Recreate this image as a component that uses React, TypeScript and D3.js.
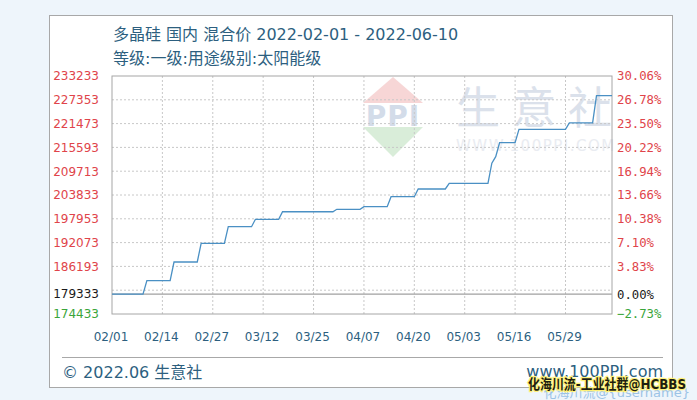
import * as d3 from 'd3';

// price points (date, value) — the line is drawn straight between them
const priceDates = [
  '2022-02-01', '2022-02-09', '2022-02-10', '2022-02-16', '2022-02-17',
  '2022-02-23', '2022-02-24', '2022-03-02', '2022-03-03', '2022-03-09',
  '2022-03-10', '2022-03-16', '2022-03-17', '2022-03-30', '2022-03-31',
  '2022-04-06', '2022-04-07', '2022-04-13', '2022-04-14', '2022-04-20',
  '2022-04-21', '2022-04-28', '2022-04-29', '2022-05-09', '2022-05-10',
  '2022-05-11', '2022-05-12', '2022-05-16', '2022-05-17', '2022-05-29',
  '2022-05-30', '2022-06-05', '2022-06-06', '2022-06-10',
];
const priceValues = [
  179333, 179333, 182667, 182667, 187280,
  187280, 191900, 191900, 196000, 196000,
  197830, 197830, 199700, 199700, 200300,
  200300, 200940, 200940, 203410, 203410,
  205320, 205320, 206720, 206720, 211700,
  213300, 216750, 216750, 220060, 220060,
  221650, 221650, 228370, 228370,
];

const baseValue = 179333;
const yMin = 174433;
const yMax = 233233;
const leftTicks = [233233, 227353, 221473, 215593, 209713, 203833, 197953, 192073, 186193, 179333, 174433];
const gridTicks = [227353, 221473, 215593, 209713, 203833, 197953, 192073, 186193, 180313];
const xTickDates = ['2022-02-01', '2022-02-14', '2022-02-27', '2022-03-12', '2022-03-25', '2022-04-07', '2022-04-20', '2022-05-03', '2022-05-16', '2022-05-29'];
const xTickLabels = ['02/01', '02/14', '02/27', '03/12', '03/25', '04/07', '04/20', '05/03', '05/16', '05/29'];

const title = '多晶硅 国内 混合价 2022-02-01 - 2022-06-10';
const subtitle = '等级:一级:用途级别:太阳能级';

const FONT = '"DejaVu Sans", "Noto Sans CJK SC", sans-serif';
const MONO = '"DejaVu Sans Mono", monospace';

export default function App() {
  const W = 697;
  const H = 400;
  const plot = { left: 112, right: 612, top: 76, bottom: 314 };
  const parse = d3.timeParse('%Y-%m-%d');

  const x = d3
    .scaleTime()
    .domain([parse('2022-02-01')!, parse('2022-06-10')!])
    .range([plot.left, plot.right]);
  const y = d3.scaleLinear().domain([yMin, yMax]).range([plot.bottom, plot.top]);

  const pts = priceDates.map((d, i) => ({ date: parse(d)!, value: priceValues[i] }));
  const line = d3
    .line<{ date: Date; value: number }>()
    .x(d => x(d.date))
    .y(d => y(d.value));

  const pct = (v: number) => `${d3.format('.2f')(((v - baseValue) / baseValue) * 100)}%`;
  const tickColor = (v: number) => (v > baseValue ? '#e0444a' : v < baseValue ? '#3aa53a' : '#1a1a1a');

  // logo watermark centre
  const cx = 393;
  const cy = 117;

  return (
    <svg
      width={W}
      height={H}
      style={{ position: 'fixed', left: 0, top: 0, display: 'block' }}
      fontFamily={FONT}
    >
      <rect x={0} y={0} width={W} height={H} fill="#eef5fb" />
      <rect x={49.5} y={15.5} width={623} height={372} fill="#ffffff" stroke="#a8a8a8" />

      <text x={113} y={40} fontSize={16} fill="#2d5f7f">{title}</text>
      <text x={113} y={64} fontSize={16} fill="#2d5f7f">{subtitle}</text>

      {/* watermark */}
      <g opacity={0.85}>
        <path d={`M${cx - 30},${cy - 14} L${cx},${cy - 40} L${cx + 30},${cy - 14} Z`} fill="#f6d0d0" />
        <path d={`M${cx - 30},${cy + 10} L${cx},${cy + 40} L${cx + 30},${cy + 10} Z`} fill="#d3ebd3" />
        <text x={cx} y={cy + 9} textAnchor="middle" fontSize={28} fontWeight="bold" fill="#ccd6e6" letterSpacing={1}>PPI</text>
        <text x={456} y={124} fontSize={44} fill="#d5dce8" letterSpacing={12}>生意社</text>
        <text x={456} y={151} fontSize={15} fill="#e6e9ef" letterSpacing={1.5}>WWW.100PPI.COM</text>
      </g>

      {/* grid */}
      {gridTicks.map(v => (
        <line key={`h${v}`} x1={plot.left} x2={plot.right} y1={y(v)} y2={y(v)} stroke="#c8c8c8" strokeDasharray="2,2" />
      ))}
      {xTickDates.slice(1).map(d => (
        <line key={`v${d}`} x1={x(parse(d)!)} x2={x(parse(d)!)} y1={plot.top} y2={plot.bottom} stroke="#c8c8c8" strokeDasharray="2,2" />
      ))}
      <line x1={plot.left} x2={plot.right} y1={y(baseValue)} y2={y(baseValue)} stroke="#a0a0a0" strokeWidth={1.2} />
      <rect x={plot.left} y={plot.top} width={plot.right - plot.left} height={plot.bottom - plot.top} fill="none" stroke="#a6a6a6" />

      <path d={line(pts) ?? ''} fill="none" stroke="#4a90c4" strokeWidth={1.3} />

      {/* left axis */}
      {leftTicks.map(v => (
        <text key={`l${v}`} x={99} y={y(v)} dy="0.36em" textAnchor="end" fontSize={12} fill={tickColor(v)}>
          {v}
        </text>
      ))}
      {/* right axis */}
      {leftTicks.map(v => (
        <text key={`r${v}`} x={617} y={y(v)} dy="0.36em" fontSize={12.3} fontFamily={MONO} fill={tickColor(v)}>
          {pct(v)}
        </text>
      ))}
      {/* x axis */}
      {xTickDates.map((d, i) => (
        <text key={`x${d}`} x={x(parse(d)!) - 1} y={341} textAnchor="middle" fontSize={12} fill="#2d5f7f">
          {xTickLabels[i]}
        </text>
      ))}

      <line x1={62} x2={663} y1={357.5} y2={357.5} stroke="#a8a8a8" />
      <text x={62} y={378} fontSize={16} fill="#2d5f7f">© 2022.06 生意社</text>
      <text x={663} y={377} textAnchor="end" fontSize={16} fill="#2d5f7f">www.100PPI.com</text>

      <text x={690} y={397} textAnchor="end" fontSize={13} fill="#9cc3e6">化海川流@{'{username}'}</text>
      <text
        x={528}
        y={389}
        fontSize={14}
        fontWeight={600}
        fill="#1e1e10"
        stroke="#fff27a"
        strokeWidth={2.5}
        paintOrder="stroke"
        textLength={158}
        lengthAdjust="spacingAndGlyphs"
      >
        化海川流-工业社群@HCBBS
      </text>
    </svg>
  );
}
